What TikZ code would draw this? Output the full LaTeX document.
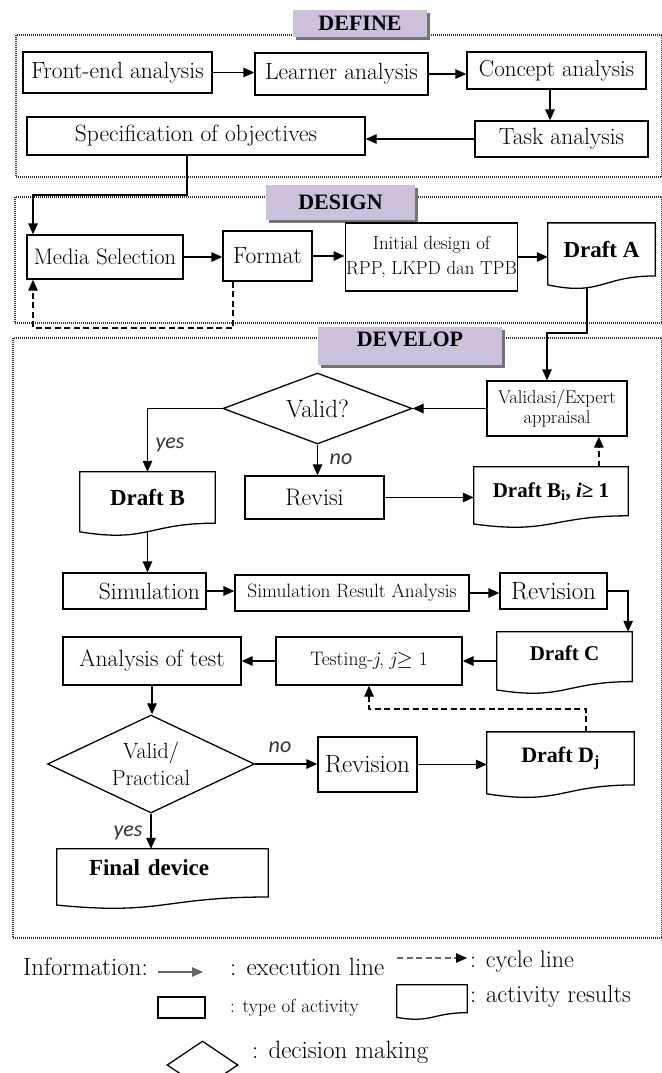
\documentclass[tikz,border=0pt]{standalone}
\usepackage{fontspec}
\newfontfamily\bfam{Liberation Serif}
\newfontfamily\yfont{Carlito}
\usetikzlibrary{arrows.meta,shapes.geometric,calc,shadows}
\pgfdeclarelayer{bg}
\pgfdeclarelayer{mid}
\pgfsetlayers{bg,mid,main}
\newcommand\fsz[2]{\fontsize{#1}{#2}\selectfont}
\definecolor{lav}{HTML}{CCC0DA}
\newcommand\docout[1]{%
  \draw[line width=1.3pt,fill=white] (#1.north west) -- (#1.north east) -- (#1.south east)
    .. controls (#1.south) and ($(#1.south)!-0.384!(#1.north)$) ..
    ($(#1.south west)!-0.1675!(#1.north west)$) -- cycle;}
\tikzset{
  box/.style={draw, line width=1.3pt, inner sep=1pt, align=center, font=\fsz{23.5}{26}},
  doc/.style={inner sep=1pt, align=center, font=\bfam\bfseries\fsz{23}{26}},
  dia/.style={diamond, draw, line width=1.3pt, inner sep=0pt, align=center},
  lab/.style={fill=lav, font=\bfam\bfseries\fsz{22}{24}, inner sep=0pt,
    drop shadow={shadow xshift=3pt,shadow yshift=-3pt,fill=black!55,opacity=1}},
  arr/.style={line width=1.3pt, -{Triangle[length=11pt,width=9.5pt]}},
  cyc/.style={arr, dash pattern=on 6pt off 3.5pt},
  frame/.style={line width=1.3pt, black!80, dash pattern=on 1pt off 1pt},
  yn/.style={font=\yfont\itshape\fsz{22}{24}, text=black!80, inner sep=0pt},
  legt/.style={font=\fsz{25}{28}, inner sep=0pt, anchor=base west}
}
\begin{document}
\begin{tikzpicture}[x=1pt,y=-1pt]
\useasboundingbox (0,0) rectangle (661,1073);
% ---------- DEFINE
\node[box,minimum width=189pt,minimum height=41pt] (fe) at (117.5,72.5) {Front-end analysis};
\node[box,minimum width=173pt,minimum height=42pt] (la) at (341.5,74) {Learner analysis};
\node[box,minimum width=179pt,minimum height=37pt,font=\fsz{23}{26}] (ca) at (556.5,70.5) {Concept analysis};
\node[box,minimum width=173pt,minimum height=36pt] (ta) at (561.5,139) {Task analysis};
\node[box,minimum width=338pt,minimum height=38pt] (so) at (196,136) {Specification of objectives};
\node[lab,minimum width=134pt,minimum height=27pt] (l1) at (360,23.5) {DEFINE};
% ---------- DESIGN
\node[lab,minimum width=149pt,minimum height=35pt] (l2) at (340.5,202.5) {DESIGN};
\node[box,minimum width=156pt,minimum height=44pt,font=\fsz{22.5}{26}] (ms) at (105,257) {Media Selection};
\node[box,minimum width=89pt,minimum height=50pt] (fm) at (267.5,256) {Format};
\node[box,minimum width=169pt,minimum height=68pt,font=\fsz{18.8}{24.5}] (id) at (431.5,257) {Initial design of\\RPP, LKPD dan TPB};
\node[doc,minimum width=107pt,minimum height=52.7pt] (da) at (601.5,249.4) {Draft A};
% ---------- DEVELOP
\node[lab,minimum width=184pt,minimum height=38pt] (l3) at (410,346) {\raisebox{7pt}[\height][\depth]{DEVELOP}};
\node[box,minimum width=140pt,minimum height=55pt,font=\fsz{18.5}{19.5}] (va) at (557,408.5) {Validasi/Expert\\appraisal};
\node[dia,minimum width=189pt,minimum height=71pt,aspect=2.66,font=\fsz{25}{26}] (v1) at (317.5,408.5) {Valid?};
\node[doc,minimum width=135pt,minimum height=51pt] (db) at (147.5,497.5) {Draft B};
\node[box,minimum width=139pt,minimum height=43pt,font=\fsz{24}{26}] (rv) at (314.5,497.5) {Revisi};
\node[doc,minimum width=154pt,minimum height=48.6pt,font=\bfam\bfseries\fsz{21}{24}] (dbi) at (551,491.3) {Draft B\textsubscript{i}, \textit{i}≥ 1};
\node[box,minimum width=143pt,minimum height=36pt,text width=131pt,align=right,inner xsep=6pt] (si) at (134.5,591) {Simulation};
\node[box,minimum width=234pt,minimum height=36pt,font=\fsz{19.3}{22}] (sra) at (352,593) {Simulation Result Analysis};
\node[box,minimum width=107pt,minimum height=36pt,font=\fsz{25}{27}] (rvn) at (553.5,591) {Revision};
\node[doc,minimum width=135pt,minimum height=49.4pt,font=\bfam\bfseries\fsz{21}{24}] (dc) at (564.5,656.7) {\raisebox{3pt}[\height][\depth]{Draft C}};
\node[box,minimum width=186pt,minimum height=48pt,font=\fsz{19.5}{22}] (te) at (369,661) {Testing-\textit{j}, \textit{j}${\geq}$ 1};
\node[box,minimum width=178pt,minimum height=48pt] (at) at (152,661) {Analysis of test};
\node[dia,minimum width=207pt,minimum height=98pt,aspect=2.1,font=\fsz{22}{27}] (v2) at (151,764) {Valid/\\Practical};
\node[box,minimum width=99pt,minimum height=55pt,font=\fsz{25}{27}] (rv2) at (367.5,764.5) {Revision};
\node[doc,minimum width=147pt,minimum height=52.7pt,font=\bfam\bfseries\fsz{22}{24}] (dd) at (560.5,758.4) {Draft D\textsubscript{j}};
\node[doc,minimum width=211pt,minimum height=47.8pt,text width=147pt,inner xsep=32pt,align=left] (fd) at (162.5,872.9) {\raisebox{5pt}[\height][\depth]{Final device}};
\node[yn] (y1) at (170,445) {yes};
\node[yn] (n1) at (341,459) {no};
\node[yn] (n2) at (280,747) {no};
\node[yn] (y2) at (128,833) {yes};
% ---------- legend
\node[legt] (t0) at (23,975) {Information:};
\coordinate (e1) at (158,972);
\coordinate (e2) at (203,972);
\node[legt] (t1) at (230,975) {: execution line};
\coordinate (c1) at (397,958);
\coordinate (c2) at (467,958);
\node[legt,font=\fsz{24}{27}] (t2) at (470,967) {: cycle line};
\node[box,minimum width=47pt,minimum height=21pt] (lr) at (181.5,1007.5) {};
\node[legt,font=\fsz{19}{21}] (t3) at (230,1012) {: type of activity};
\node[doc,minimum width=70pt,minimum height=27.5pt] (ld) at (432,998.75) {};
\node[legt,font=\fsz{24.5}{27}] (t4) at (470,1002) {: activity results};
\node[dia,minimum width=71pt,minimum height=48pt,aspect=1.5] (ldia) at (202.5,1065) {};
\node[legt] (t5) at (252,1058) {: decision making};
% ---------- document outlines
\begin{pgfonlayer}{mid}
\docout{da}\docout{db}\docout{dbi}\docout{dc}\docout{dd}\docout{fd}\docout{ld}
\end{pgfonlayer}
% ---------- frames and connectors
\begin{pgfonlayer}{bg}
\draw[frame] (16,35) rectangle (662,177);
\draw[frame] (15,197) rectangle (662,323);
\draw[frame] (13,338) rectangle (662,938);
\draw[arr] (fe.east) -- (fe.east -| la.west);
\draw[arr] (la.east) -- (la.east -| ca.west);
\draw[arr] ([xshift=-6.5pt]ca.south) -- ([xshift=-6.5pt]ca.south |- ta.north);
\draw[arr] (ta.west) -- (ta.west -| so.east);
\coordinate (k1) at (33,195);
\draw[arr] ([xshift=-9pt]so.south) |- (k1) -- (k1 |- ms.north);
\draw[arr] (ms.east) -- (ms.east -| fm.west);
\draw[arr] (fm.east) -- (fm.east -| id.west);
\draw[arr] (id.east) -- (id.east -| da.west);
\coordinate (k2) at (33,328);
\draw[cyc] ([xshift=-34.5pt]fm.south) |- (k2) -- (k2 |- ms.south);
\coordinate (k3) at (547,333);
\draw[arr] ($(da.south west)!0.364!(da.south east)$) |- (k3) -- (k3 |- va.north);
\draw[arr] (va.west) -- (v1.east);
\draw[arr] (v1.west) -| (db.north);
\draw[arr] (v1.south) -- (v1.south |- rv.north);
\draw[arr] (rv.east) -- (rv.east -| dbi.west);
\coordinate (k5) at ($(dbi.north west)!0.81!(dbi.north east)$);
\draw[cyc] (k5) -- (k5 |- va.south);
\coordinate (k6) at ($(db.north)!1.165!(db.south)$);
\draw[arr] (k6) -- (k6 |- si.north);
\draw[arr] (si.east) -- (si.east -| sra.west);
\draw[arr] (sra.east) -- (sra.east -| rvn.west);
\coordinate (k7) at ($(dc.north west)!0.97!(dc.north east)$);
\draw[arr] (rvn.east) -| (k7);
\draw[arr] (dc.west |- te.east) -- (te.east);
\draw[arr] (te.west) -- (at.east);
\draw[arr] (at.south) -- (at.south |- v2.north);
\draw[arr] (v2.east) -- (v2.east -| rv2.west);
\draw[arr] (rv2.east) -- (rv2.east -| dd.west);
\coordinate (k8) at ($(dd.north west)!0.673!(dd.north east)$);
\coordinate (k4) at (0,709);
\draw[cyc] (k8) |- (te.south |- k4) -- (te.south);
\draw[arr] (v2.south) -- (v2.south |- fd.north);
\draw[arr, draw=black!60] (e1) -- (e2);
\draw[cyc, draw=black!60, -{Triangle[length=11pt,width=9.5pt,color=black]}] (c1) -- (c2);
\end{pgfonlayer}
\end{tikzpicture}
\end{document}
